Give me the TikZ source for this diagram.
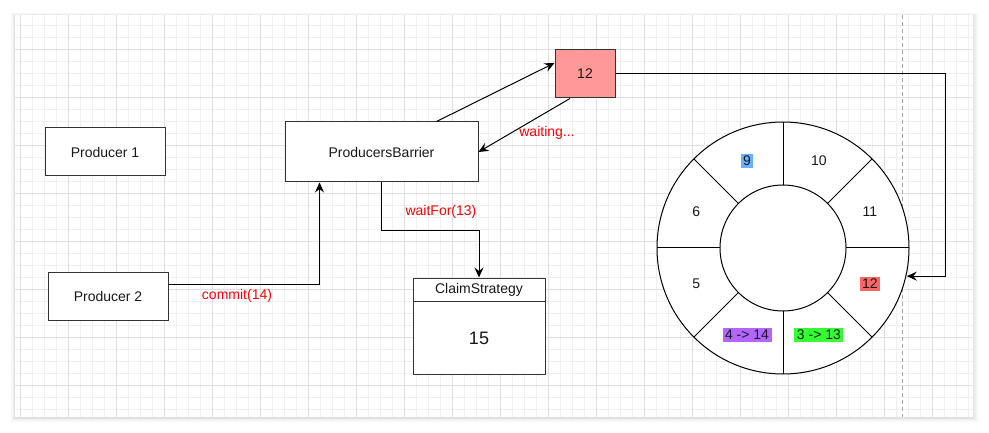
\documentclass[tikz,border=0pt]{standalone}
\usepackage{fontspec}
\setmainfont{Liberation Sans}
\usetikzlibrary{arrows.meta,calc}
\definecolor{redbox}{HTML}{FF9999}
\definecolor{lblue}{HTML}{66B2FF}
\definecolor{lred}{HTML}{FF6666}
\definecolor{lpurple}{HTML}{B266FF}
\definecolor{lgreen}{HTML}{33FF33}
\definecolor{txtred}{HTML}{FF0000}
\begin{document}
\begin{tikzpicture}[x=1pt,y=-1pt,
  every node/.style={font=\fontsize{14}{16}\selectfont, text=black!90},
  box/.style={draw=black!80, line width=1pt, fill=white, inner sep=0pt},
  conn/.style={draw=black, line width=1pt, -{Stealth[length=10pt,width=9pt,inset=3.5pt]}},
  lbl/.style={text=txtred},
  ringline/.style={draw=black, line width=1pt},
  hl/.style={inner xsep=2.5pt, inner ysep=2pt}]
\useasboundingbox (0,0) rectangle (989,433);
% page shadow
\fill[black, opacity=0.03] (11,13) rectangle (978,422);
\fill[black, opacity=0.04] (13,14) rectangle (976,420);
\fill[black, opacity=0.05] (14,15) rectangle (974,419);
\fill[white] (15,15) rectangle (973,417);
% grid
\begin{scope}
\clip (15,15) rectangle (973,417);
\foreach \x in {20,32,...,968} \draw[black!6, line width=0.8pt] (\x,15) -- (\x,417);
\foreach \y in {25,37,...,409} \draw[black!6, line width=0.8pt] (15,\y) -- (973,\y);
\foreach \x in {20,68,...,932} \draw[black!12, line width=0.8pt] (\x,15) -- (\x,417);
\foreach \y in {49,97,...,385} \draw[black!12, line width=0.8pt] (15,\y) -- (973,\y);
\end{scope}
\draw[black!35, dashed, dash pattern=on 4pt off 3pt, line width=0.8pt] (902,15) -- (902,417);

% boxes
\node[box, minimum width=120, minimum height=48] (p1) at (105,152) {Producer 1};
\node[box, minimum width=120, minimum height=48] (p2) at (108,296) {Producer 2};
\node[box, minimum width=193, minimum height=60] (bar) at (381.5,152) {ProducersBarrier};
\node[box, fill=redbox, minimum width=60, minimum height=48] (rb) at (585,74) {12};
\node[box, minimum width=132, minimum height=96] (cs) at (479,326) {};
\draw[black!80, line width=1pt] ($(cs.north west)+(0,24)$) coordinate (csl) -- ($(cs.north east)+(0,24)$) coordinate (csr);
\node (cst) at ($(cs.north)+(0,12)$) {ClaimStrategy};
\node[font=\fontsize{18}{20}\selectfont] (csv) at ($(cs.south)+(0,-36)$) {15};

% ring
\coordinate (ring) at (783,248);
\draw[ringline, fill=white] (ring) circle[radius=126];
\draw[ringline] (ring) circle[radius=63];
\foreach \a in {0,45,...,315}
  \draw[ringline] ($(ring)+(\a:63)$) -- ($(ring)+(\a:126)$);
\node[hl, fill=lblue] (s9) at ($(ring)+(-112.5:94)$) {9};
\node (s10) at ($(ring)+(-67.5:94)$) {10};
\node (s11) at ($(ring)+(-22.5:94)$) {11};
\node[hl, fill=lred] (s12) at ($(ring)+(22.5:94)$) {12};
\node[hl, fill=lgreen] (s3) at ($(ring)+(67.5:94)$) {3 -> 13};
\node[hl, fill=lpurple] (s4) at ($(ring)+(112.5:94)$) {4 -> 14};
\node (s5) at ($(ring)+(157.5:94)$) {5};
\node (s6) at ($(ring)+(-157.5:94)$) {6};
\coordinate (hit) at ($(ring)+(12.8:127)$);

% connectors
\draw[conn] ($(p2.east)+(0,-12)$) -| ($(bar.south west)+(35,0)$);
\node[lbl] (lc) at (237,296) {commit(14)};
\draw[conn] (bar.south) -- ++(0,48) -| (cs.north);
\node[lbl] (lw) at (441,212) {waitFor(13)};
\draw[conn] ($(bar.north west)+(152,0)$) -- ($(rb.west)+(0,-11)$);
\draw[conn] ($(rb.south)+(-15,0)$) -- (bar.east);
\node[lbl] (lwa) at (547,133) {waiting...};
\draw[conn] (rb.east) -- (945,74) |- (hit);
\end{tikzpicture}
\end{document}
